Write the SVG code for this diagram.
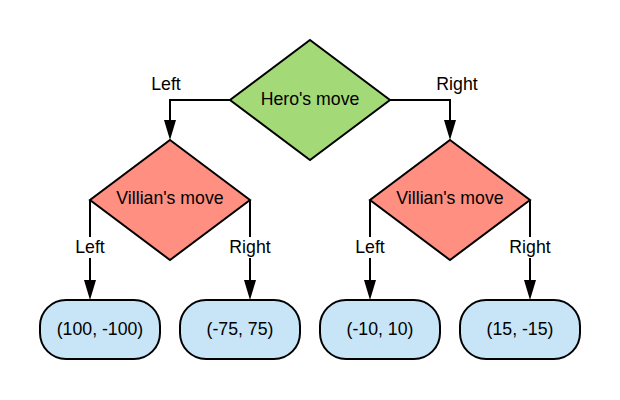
<svg xmlns="http://www.w3.org/2000/svg" width="620" height="400" viewBox="0 0 620 400">
  <style>
    .shape { stroke: #000; stroke-width: 2; stroke-linejoin: miter; }
    .hero { fill: #a3d977; }
    .villain { fill: #ff8f80; }
    .leaf { fill: #c7e5f7; }
    .label { font-family: "Liberation Sans", Arial, sans-serif; font-size: 17.7px; fill: #000; text-anchor: middle; }
    .edge { fill: none; stroke: #000; stroke-width: 2; }
    .head { fill: #000; }
    .gap { fill: #fff; stroke: none; }
  </style>
  <rect width="620" height="400" fill="#fff"/>

  <g id="connectors">
    <path class="edge" d="M230,100 H170 V121"/>
    <polygon class="head" points="164,120 176,120 170,140"/>
    <path class="edge" d="M390,100 H450 V121"/>
    <polygon class="head" points="444,120 456,120 450,140"/>

    <path class="edge" d="M90,200 V281"/>
    <polygon class="head" points="84,280 96,280 90,300"/>
    <path class="edge" d="M250,200 V281"/>
    <polygon class="head" points="244,280 256,280 250,300"/>
    <path class="edge" d="M370,200 V281"/>
    <polygon class="head" points="364,280 376,280 370,300"/>
    <path class="edge" d="M530,200 V281"/>
    <polygon class="head" points="524,280 536,280 530,300"/>

    <text class="label" x="166" y="90">Left</text>
    <text class="label" x="457" y="90">Right</text>

    <rect class="gap" x="72" y="237" width="36" height="21"/>
    <text class="label" x="90" y="253">Left</text>
    <rect class="gap" x="227" y="237" width="46" height="21"/>
    <text class="label" x="250" y="253">Right</text>
    <rect class="gap" x="352" y="237" width="36" height="21"/>
    <text class="label" x="370" y="253">Left</text>
    <rect class="gap" x="507" y="237" width="46" height="21"/>
    <text class="label" x="530" y="253">Right</text>
  </g>

  <g id="hero">
    <polygon class="shape hero" points="310,40 390,100 310,160 230,100"/>
    <text class="label" x="310" y="105">Hero's move</text>
  </g>

  <g id="villain-left">
    <polygon class="shape villain" points="170,140 250,200 170,260 90,200"/>
    <text class="label" x="170" y="204">Villian's move</text>
  </g>

  <g id="villain-right">
    <polygon class="shape villain" points="450,140 530,200 450,260 370,200"/>
    <text class="label" x="450" y="204">Villian's move</text>
  </g>

  <g id="leaf-1">
    <rect class="shape leaf" x="40" y="300" width="120" height="59" rx="26" ry="26"/>
    <text class="label" x="100" y="335">(100, -100)</text>
  </g>
  <g id="leaf-2">
    <rect class="shape leaf" x="180" y="300" width="120" height="59" rx="26" ry="26"/>
    <text class="label" x="240" y="335">(-75, 75)</text>
  </g>
  <g id="leaf-3">
    <rect class="shape leaf" x="320" y="300" width="120" height="59" rx="26" ry="26"/>
    <text class="label" x="380" y="335">(-10, 10)</text>
  </g>
  <g id="leaf-4">
    <rect class="shape leaf" x="460" y="300" width="120" height="59" rx="26" ry="26"/>
    <text class="label" x="520" y="335">(15, -15)</text>
  </g>
</svg>
